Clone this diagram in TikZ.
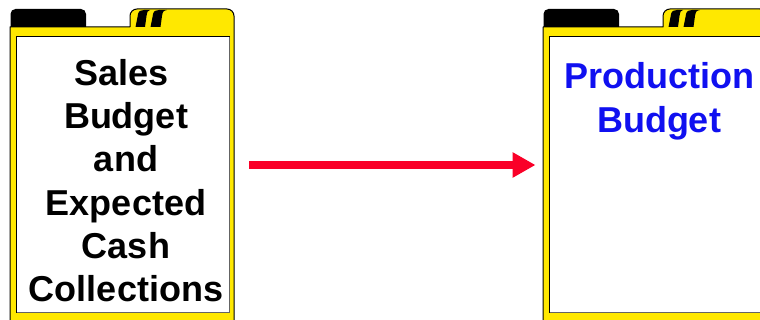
\documentclass[tikz,border=0pt]{standalone}
\usepackage{fontspec}
\setmainfont{Liberation Sans}
\usetikzlibrary{arrows.meta}
\definecolor{folderyellow}{RGB}{255,232,0}
\definecolor{arrowred}{RGB}{250,0,40}
\definecolor{textblue}{RGB}{16,16,240}
\definecolor{edgegray}{RGB}{100,100,100}
\tikzset{
  folderbody/.style={fill=folderyellow, draw=black, line width=1pt, line join=round},
  tabblack/.style={fill=black, rounded corners=5pt},
  stripe/.style={fill=black},
  innerbox/.style={fill=white, draw=none, minimum width=213pt, minimum height=276pt, inner sep=0pt, outer sep=0pt},
  inneredgedark/.style={draw=black, line width=1pt},
  inneredgelight/.style={draw=edgegray, line width=1pt},
  flowarrow/.style={draw=arrowred, line width=8pt, -{Triangle[length=23pt, width=24pt]}},
  labeltext/.style={font=\fontsize{36}{43.3}\selectfont\bfseries, align=center, inner sep=0pt},
  folder/.pic={
    \path[folderbody] (10,340) -- (10,27) -- (130,27)
      [rounded corners=7pt] -- (130,9) -- (234,9) [sharp corners] -- (234,340);
    \path[tabblack] (10.5,27) -- (10.5,9) -- (86,9) -- (86,27);
    \path[stripe] (135.5,27) -- (137.5,17) .. controls (138.5,11) .. (144,10) -- (150,10) .. controls (147.5,11) .. (146.5,16) -- (145,27) -- cycle;
    \path[stripe] (150.5,27) -- (152.5,17) .. controls (153.5,11) .. (159,10) -- (167,10) .. controls (163,11) .. (162,16) -- (160.5,27) -- cycle;
    \node[innerbox] (-inner) at (123,174.5) {};
    \draw[inneredgelight] (-inner.south west) -- (-inner.south east) -- (-inner.north east);
    \draw[inneredgedark] (-inner.south west) -- (-inner.north west) -- (-inner.north east);
  }
}
\begin{document}
\begin{tikzpicture}[x=1pt, y=-1pt]
  \useasboundingbox (0,0) rectangle (760,320);
  \pic (sales) at (0,0) {folder};
  \pic (prod) at (533,0) {folder};
  \node[labeltext, anchor=north] (salestext) at (126,59)
    {Sales\hspace*{9pt}\\Budget\\and\\Expected\\Cash\\Collections};
  \node[labeltext, anchor=north, text=textblue] (prodtext) at (659,62.5)
    {Production\\Budget};
  \draw[flowarrow, shorten <=19.5pt, shorten >=14pt]
    ([yshift=9.5pt]sales-inner.east) -- ([yshift=9.5pt]prod-inner.west);
\end{tikzpicture}
\end{document}
